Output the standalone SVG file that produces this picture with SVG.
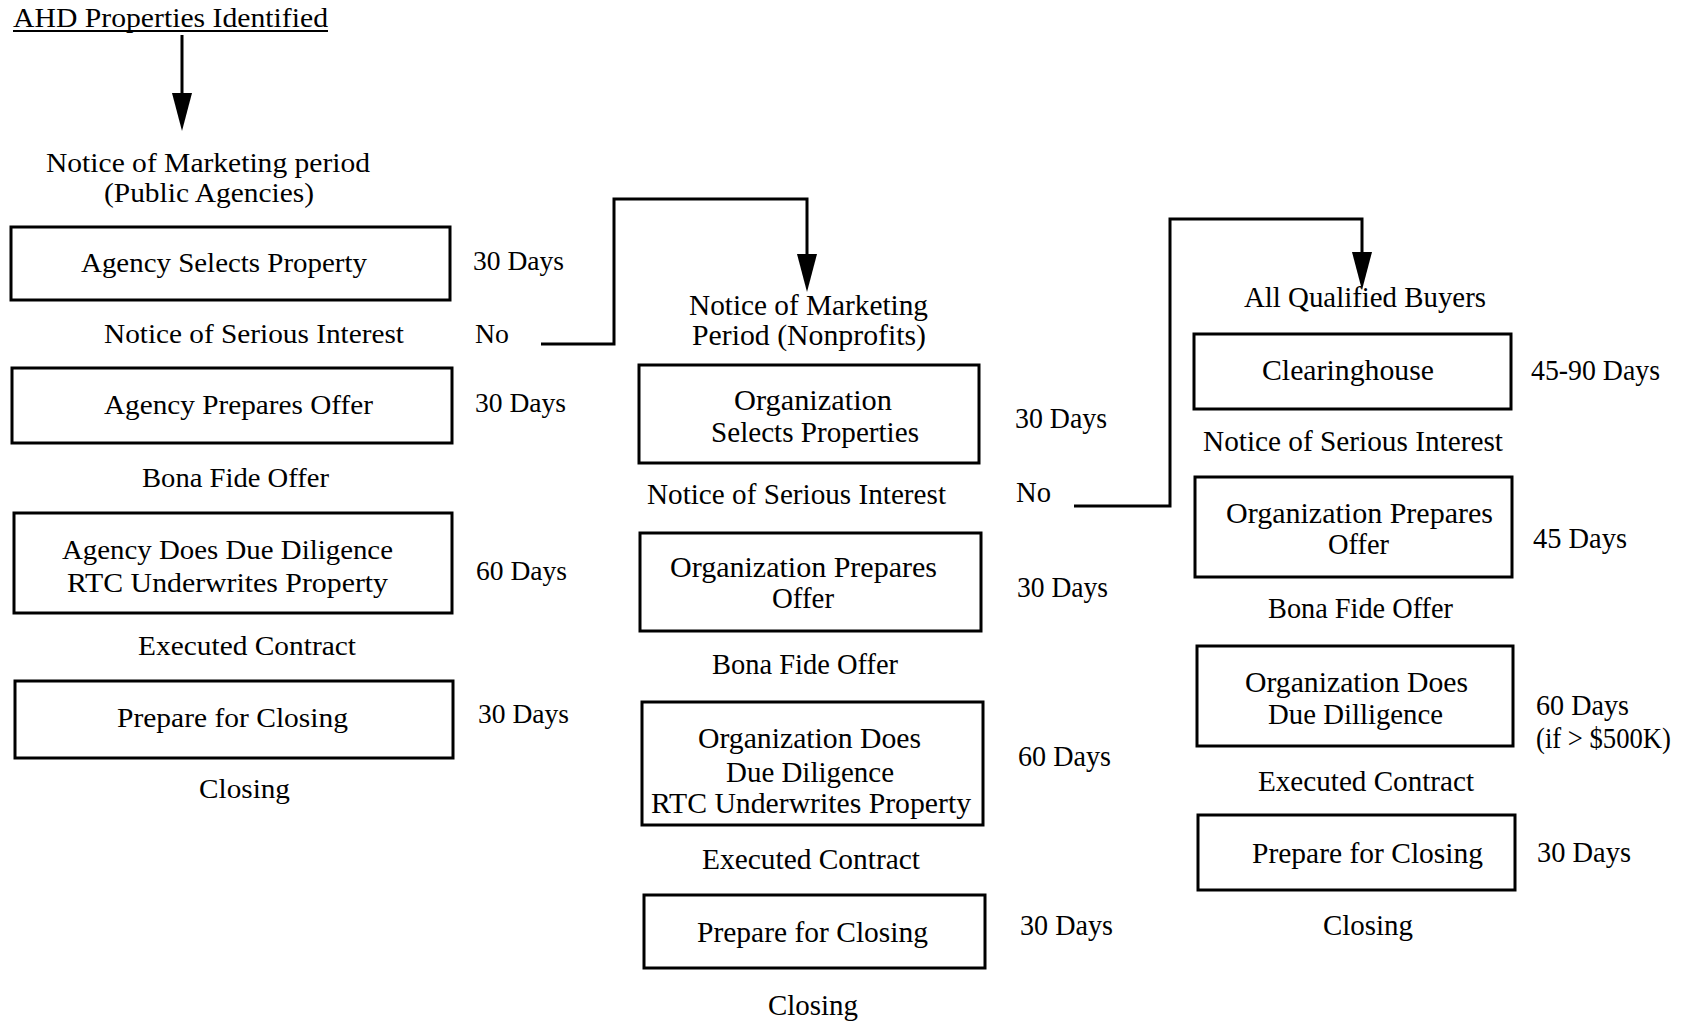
<svg xmlns="http://www.w3.org/2000/svg" width="1684" height="1023" viewBox="0 0 1684 1023">
<style>
text{font-family:"Liberation Serif","Times New Roman",serif;fill:#000;}
.c1{font-size:28px;}
.c2{font-size:29px;}
.c3{font-size:29px;}
.box{fill:#fff;stroke:#000;stroke-width:3;}
.wire{fill:none;stroke:#000;stroke-width:3;}
</style>
<defs>
<marker id="ah" markerUnits="userSpaceOnUse" viewBox="0 0 38 20" markerWidth="38" markerHeight="20" refX="8" refY="10" orient="auto">
<path d="M0,0 L38,10 L0,20 Z" fill="#000"/>
</marker>
</defs>
<rect width="1684" height="1023" fill="#fff"/>

<g id="connectors">
<path class="wire" d="M182,35 V101" marker-end="url(#ah)"/>
<path class="wire" d="M541,344 H614 V199 H807 V262" marker-end="url(#ah)"/>
<path class="wire" d="M1074,506 H1170 V219 H1362 V260" marker-end="url(#ah)"/>
<line x1="13" y1="31" x2="328" y2="31" stroke="#000" stroke-width="2"/>
</g>

<!-- Column 1 -->
<g id="title"><text class="c1" x="13" y="27" textLength="315" lengthAdjust="spacingAndGlyphs">AHD Properties Identified</text></g>
<g id="notice-public">
<text class="c1" x="46" y="172" textLength="324" lengthAdjust="spacingAndGlyphs">Notice of Marketing period</text>
<text class="c1" x="104" y="202" textLength="210" lengthAdjust="spacingAndGlyphs">(Public Agencies)</text>
</g>
<g id="agency-selects">
<rect class="box" x="11" y="227" width="439" height="73"/>
<text class="c1" x="81" y="272" textLength="286" lengthAdjust="spacingAndGlyphs">Agency Selects Property</text>
</g>
<g id="d1a"><text class="c1" x="473" y="270" textLength="91" lengthAdjust="spacingAndGlyphs">30 Days</text></g>
<g id="nsi1"><text class="c1" x="104" y="343" textLength="300" lengthAdjust="spacingAndGlyphs">Notice of Serious Interest</text></g>
<g id="no1"><text class="c1" x="475" y="343" textLength="34" lengthAdjust="spacingAndGlyphs">No</text></g>
<g id="agency-prepares">
<rect class="box" x="12" y="368" width="440" height="75"/>
<text class="c1" x="104" y="414" textLength="269" lengthAdjust="spacingAndGlyphs">Agency Prepares Offer</text>
</g>
<g id="d1b"><text class="c1" x="475" y="412" textLength="91" lengthAdjust="spacingAndGlyphs">30 Days</text></g>
<g id="bfo1"><text class="c1" x="142" y="487" textLength="187" lengthAdjust="spacingAndGlyphs">Bona Fide Offer</text></g>
<g id="agency-dd">
<rect class="box" x="14" y="513" width="438" height="100"/>
<text class="c1" x="62" y="559" textLength="331" lengthAdjust="spacingAndGlyphs">Agency Does Due Diligence</text>
<text class="c1" x="67" y="592" textLength="321" lengthAdjust="spacingAndGlyphs">RTC Underwrites Property</text>
</g>
<g id="d1c"><text class="c1" x="476" y="580" textLength="91" lengthAdjust="spacingAndGlyphs">60 Days</text></g>
<g id="ec1"><text class="c1" x="138" y="655" textLength="218" lengthAdjust="spacingAndGlyphs">Executed Contract</text></g>
<g id="prep-closing-1">
<rect class="box" x="15" y="681" width="438" height="77"/>
<text class="c1" x="117" y="727" textLength="231" lengthAdjust="spacingAndGlyphs">Prepare for Closing</text>
</g>
<g id="d1d"><text class="c1" x="478" y="723" textLength="91" lengthAdjust="spacingAndGlyphs">30 Days</text></g>
<g id="closing1"><text class="c1" x="199" y="798" textLength="91" lengthAdjust="spacingAndGlyphs">Closing</text></g>

<!-- Column 2 -->
<g id="notice-nonprofits">
<text class="c2" x="689" y="315" textLength="239" lengthAdjust="spacingAndGlyphs">Notice of Marketing</text>
<text class="c2" x="692" y="345" textLength="234" lengthAdjust="spacingAndGlyphs">Period (Nonprofits)</text>
</g>
<g id="org-selects">
<rect class="box" x="639" y="365" width="340" height="98"/>
<text class="c2" x="734" y="410" textLength="158" lengthAdjust="spacingAndGlyphs">Organization</text>
<text class="c2" x="711" y="442" textLength="208" lengthAdjust="spacingAndGlyphs">Selects Properties</text>
</g>
<g id="d2a"><text class="c2" x="1015" y="428" textLength="92" lengthAdjust="spacingAndGlyphs">30 Days</text></g>
<g id="nsi2"><text class="c2" x="647" y="504" textLength="299" lengthAdjust="spacingAndGlyphs">Notice of Serious Interest</text></g>
<g id="no2"><text class="c2" x="1016" y="502" textLength="35" lengthAdjust="spacingAndGlyphs">No</text></g>
<g id="org-prepares-2">
<rect class="box" x="640" y="533" width="341" height="98"/>
<text class="c2" x="670" y="577" textLength="267" lengthAdjust="spacingAndGlyphs">Organization Prepares</text>
<text class="c2" x="772" y="608" textLength="62" lengthAdjust="spacingAndGlyphs">Offer</text>
</g>
<g id="d2b"><text class="c2" x="1017" y="597" textLength="91" lengthAdjust="spacingAndGlyphs">30 Days</text></g>
<g id="bfo2"><text class="c2" x="712" y="674" textLength="186" lengthAdjust="spacingAndGlyphs">Bona Fide Offer</text></g>
<g id="org-dd-2">
<rect class="box" x="642" y="702" width="341" height="123"/>
<text class="c2" x="698" y="748" textLength="223" lengthAdjust="spacingAndGlyphs">Organization Does</text>
<text class="c2" x="726" y="782" textLength="168" lengthAdjust="spacingAndGlyphs">Due Diligence</text>
<text class="c2" x="651" y="813" textLength="320" lengthAdjust="spacingAndGlyphs">RTC Underwrites Property</text>
</g>
<g id="d2c"><text class="c2" x="1018" y="766" textLength="93" lengthAdjust="spacingAndGlyphs">60 Days</text></g>
<g id="ec2"><text class="c2" x="702" y="869" textLength="218" lengthAdjust="spacingAndGlyphs">Executed Contract</text></g>
<g id="prep-closing-2">
<rect class="box" x="644" y="895" width="341" height="73"/>
<text class="c2" x="697" y="942" textLength="231" lengthAdjust="spacingAndGlyphs">Prepare for Closing</text>
</g>
<g id="d2d"><text class="c2" x="1020" y="935" textLength="93" lengthAdjust="spacingAndGlyphs">30 Days</text></g>
<g id="closing2"><text class="c2" x="768" y="1015" textLength="90" lengthAdjust="spacingAndGlyphs">Closing</text></g>

<!-- Column 3 -->
<g id="all-buyers"><text class="c3" x="1244" y="307" textLength="242" lengthAdjust="spacingAndGlyphs">All Qualified Buyers</text></g>
<g id="clearinghouse">
<rect class="box" x="1194" y="334" width="317" height="75"/>
<text class="c3" x="1262" y="380" textLength="172" lengthAdjust="spacingAndGlyphs">Clearinghouse</text>
</g>
<g id="d3a"><text class="c3" x="1531" y="380" textLength="129" lengthAdjust="spacingAndGlyphs">45-90 Days</text></g>
<g id="nsi3"><text class="c3" x="1203" y="451" textLength="300" lengthAdjust="spacingAndGlyphs">Notice of Serious Interest</text></g>
<g id="org-prepares-3">
<rect class="box" x="1195" y="477" width="317" height="100"/>
<text class="c3" x="1226" y="523" textLength="267" lengthAdjust="spacingAndGlyphs">Organization Prepares</text>
<text class="c3" x="1328" y="554" textLength="61" lengthAdjust="spacingAndGlyphs">Offer</text>
</g>
<g id="d3b"><text class="c3" x="1533" y="548" textLength="94" lengthAdjust="spacingAndGlyphs">45 Days</text></g>
<g id="bfo3"><text class="c3" x="1268" y="618" textLength="185" lengthAdjust="spacingAndGlyphs">Bona Fide Offer</text></g>
<g id="org-dd-3">
<rect class="box" x="1197" y="646" width="316" height="100"/>
<text class="c3" x="1245" y="692" textLength="223" lengthAdjust="spacingAndGlyphs">Organization Does</text>
<text class="c3" x="1268" y="724" textLength="175" lengthAdjust="spacingAndGlyphs">Due Dilligence</text>
</g>
<g id="d3c">
<text class="c3" x="1536" y="715" textLength="93" lengthAdjust="spacingAndGlyphs">60 Days</text>
<text class="c3" x="1536" y="748" textLength="135" lengthAdjust="spacingAndGlyphs">(if &gt; $500K)</text>
</g>
<g id="ec3"><text class="c3" x="1258" y="791" textLength="216" lengthAdjust="spacingAndGlyphs">Executed Contract</text></g>
<g id="prep-closing-3">
<rect class="box" x="1198" y="815" width="317" height="75"/>
<text class="c3" x="1252" y="863" textLength="231" lengthAdjust="spacingAndGlyphs">Prepare for Closing</text>
</g>
<g id="d3d"><text class="c3" x="1537" y="862" textLength="94" lengthAdjust="spacingAndGlyphs">30 Days</text></g>
<g id="closing3"><text class="c3" x="1323" y="935" textLength="90" lengthAdjust="spacingAndGlyphs">Closing</text></g>
</svg>
